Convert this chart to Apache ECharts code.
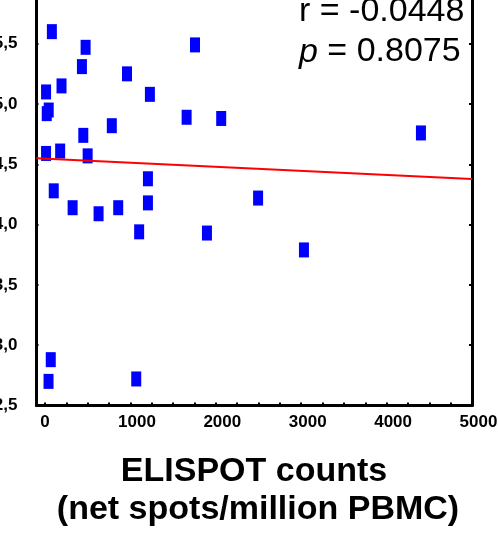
<!DOCTYPE html>
<html>
<head>
<meta charset="utf-8">
<script src="https://cdn.jsdelivr.net/npm/echarts@6/dist/echarts.min.js"></script>
<style>
html,body{margin:0;padding:0;background:#fff;}
#chart{width:498px;height:539px;}
</style>
</head>
<body>
<div id="chart"></div>
<script>
// ELISPOT counts (x) vs y values
const xValues = [80, 475, 1756, 432, 960, 12, 193, 1228, 20, 43, 1658, 2063, 782, 448, 4402, 12, 177, 499, 1205, 102, 1205, 2495, 323, 627, 857, 1102, 1896, 3032, 67, 41, 1068];
const yValues = [5.60, 5.47, 5.49, 5.31, 5.25, 5.10, 5.15, 5.08, 4.92, 4.95, 4.89, 4.88, 4.82, 4.74, 4.76, 4.59, 4.61, 4.57, 4.38, 4.28, 4.18, 4.22, 4.14, 4.09, 4.14, 3.94, 3.93, 3.79, 2.88, 2.70, 2.72];
// regression line end points
const fitX = [-100, 5000];
const fitY = [4.55, 4.378];
// tick labels
const xTicks = [0, 1000, 2000, 3000, 4000, 5000];
const xMinorTicks = [0,250,500,750,1000,1250,1500,1750,2000,2250,2500,2750,3000,3250,3500,3750,4000,4250,4500,4750,5000];
const yTicks = [2.5, 3.0, 3.5, 4.0, 4.5, 5.0, 5.5, 6.0];
const statsR = 'r = -0.0448';
const statsP = '0.8075';
const xTitle1 = 'ELISPOT counts';
const xTitle2 = '(net spots/million PBMC)';

const FONT = '"Liberation Sans", Arial, Helvetica, sans-serif';
const chart = echarts.init(document.getElementById('chart'), null, {renderer: 'canvas'});

const pts = xValues.map((x, i) => [x, yValues[i]]);
const fit = fitX.map((x, i) => [x, fitY[i]]);

const option = {
  animation: false,
  backgroundColor: '#ffffff',
  grid: {left: 36.5, right: 26, top: -16.6, bottom: 133.5, containLabel: false, outerBoundsMode: 'none'},
  xAxis: [{
    type: 'value', min: -100, max: 5000, position: 'bottom',
    axisLine: {show: true, onZero: false, lineStyle: {color: '#000', width: 3}},
    axisTick: {show: true, inside: true, length: 3, customValues: xMinorTicks, lineStyle: {color: '#000', width: 2}},
    axisLabel: {
      show: true, customValues: xTicks, margin: 8,
      formatter: v => v === 0 ? '{z|0}' : '{n|' + v + '}',
      rich: {
        z: {fontFamily: FONT, fontSize: 17, fontWeight: 'bold', color: '#000'},
        n: {fontFamily: FONT, fontSize: 17, fontWeight: 'bold', color: '#000', padding: [0, 0, 0, 13]}
      }
    },
    splitLine: {show: false}
  }],
  yAxis: [{
    type: 'value', min: 2.5, max: 6.0, interval: 0.5, position: 'left',
    axisLine: {show: true, onZero: false, lineStyle: {color: '#000', width: 3}},
    axisTick: {show: true, inside: true, length: 2, lineStyle: {color: '#000', width: 2}},
    axisLabel: {
      show: true, margin: 19, fontFamily: FONT, fontSize: 17, fontWeight: 'bold', color: '#000',
      padding: [3, 0, 0, 0],
      formatter: v => v.toFixed(1).replace('.', ',')
    },
    splitLine: {show: false}
  }, {
    type: 'value', min: 2.5, max: 6.0, interval: 0.5, position: 'right',
    axisLine: {show: true, onZero: false, lineStyle: {color: '#000', width: 3}},
    axisTick: {show: true, inside: true, length: 3, lineStyle: {color: '#000', width: 2}},
    axisLabel: {show: false},
    splitLine: {show: false}
  }],
  series: [{
    type: 'scatter', data: pts, symbol: 'rect', symbolSize: [10, 15],
    itemStyle: {color: '#0000ff', opacity: 1}, z: 2
  }, {
    type: 'line', data: fit, showSymbol: false, symbol: 'none',
    lineStyle: {color: '#ff0000', width: 2}, z: 3, silent: true
  }],
  graphic: [
    {type: 'text', left: null, x: 299, y: 11.4, style: {text: statsR, font: '34px ' + FONT, fill: '#000', textAlign: 'left', textVerticalAlign: 'middle'}},
    {type: 'text', x: 299, y: 52.1, style: {
      text: '{i|p} = ' + statsP, font: '34px ' + FONT, fill: '#000', textAlign: 'left', textVerticalAlign: 'middle',
      rich: {i: {fontStyle: 'italic', fontFamily: FONT, fontSize: 34, fill: '#000'}}
    }},
    {type: 'text', x: 254, y: 471.4, style: {text: xTitle1, font: 'bold 34px ' + FONT, fill: '#000', textAlign: 'center', textVerticalAlign: 'middle'}},
    {type: 'text', x: 258, y: 509.8, style: {text: xTitle2, font: 'bold 34px ' + FONT, fill: '#000', textAlign: 'center', textVerticalAlign: 'middle'}}
  ]
};
chart.setOption(option);
</script>
</body>
</html>
